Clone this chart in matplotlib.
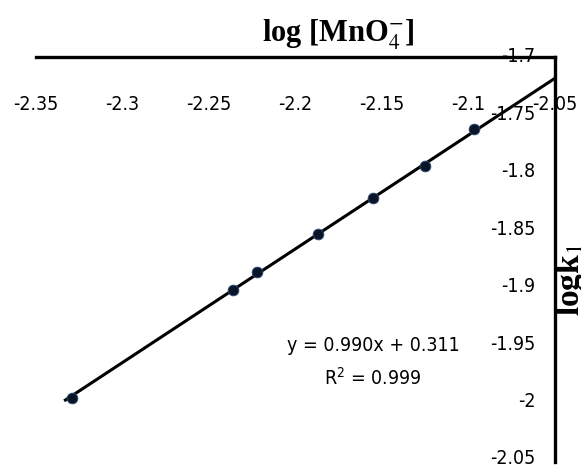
import numpy as np
import matplotlib
matplotlib.use("Agg")
import matplotlib.pyplot as plt

# data
log_mno4 = [-2.329, -2.236, -2.222, -2.187, -2.155, -2.125, -2.097]
log_k1 = [-1.997, -1.903, -1.887, -1.854, -1.823, -1.795, -1.763]
slope, intercept = 0.990, 0.311
fit_range = [-2.333, -2.05]
xticks = [-2.35, -2.3, -2.25, -2.2, -2.15, -2.1, -2.05]
yticks = [-1.7, -1.75, -1.8, -1.85, -1.9, -1.95, -2.0, -2.05]
xtick_labels = ['-2.35', '-2.3', '-2.25', '-2.2', '-2.15', '-2.1', '-2.05']
ytick_labels = ['-1.7', '-1.75', '-1.8', '-1.85', '-1.9', '-1.95', '-2', '-2.05']

plt.rcParams['font.family'] = ['DejaVu Sans']
plt.rcParams['font.stretch'] = 'condensed'

fig = plt.figure(figsize=(5.81, 4.70), dpi=100)
ax = fig.add_axes([36 / 581, 1 - 459 / 470, (555 - 36) / 581, (459 - 57) / 470])

# trendline
xt = np.array(fit_range)
ax.plot(xt, slope * xt + intercept, color='black', lw=2.2, zorder=2, clip_on=False)
ax.scatter(log_mno4, log_k1, s=60, color='#0b1526', edgecolors='#2a4d80',
           linewidths=0.6, zorder=3)

ax.set_xlim(-2.35, -2.05)
ax.set_ylim(-2.05, -1.7)

# only top and right spines
for side in ['left', 'bottom']:
    ax.spines[side].set_visible(False)
for side in ['top', 'right']:
    ax.spines[side].set_linewidth(2.4)
    ax.spines[side].set_capstyle('projecting')
ax.spines['right'].set_bounds(-2.053, -1.7)

ax.set_xticks(xticks)
ax.set_xticklabels(xtick_labels)
ax.set_yticks(yticks)
ax.set_yticklabels(ytick_labels)

ax.tick_params(axis='x', bottom=False, labelbottom=False, top=False, labeltop=True,
               length=0, pad=-41, labelsize=14)
ax.tick_params(axis='y', left=False, labelleft=False, right=False, labelright=True,
               length=0, pad=-14, labelsize=14)
for lab in ax.get_yticklabels():
    lab.set_ha('right')
    lab.set_va('center')

# equation
ax.text(-2.1552, -1.9509, 'y = 0.990x + 0.311', ha='center', va='center', fontsize=14)
ax.text(-2.1552, -1.9796, r'R$^2$ = 0.999', ha='center', va='center', fontsize=14)

# axis titles
fig.text(338 / 581, 1 - 35 / 470, r'log [MnO$_4^{-}$]', ha='center', va='center',
         fontsize=22, fontweight='bold', family='Liberation Serif', stretch='normal',
         math_fontfamily='stix')
fig.text(571 / 581, 1 - 280 / 470, r'logk$_1$', ha='center', va='center', rotation=90,
         fontsize=24, fontweight='bold', family='Liberation Serif', stretch='normal',
         math_fontfamily='stix')

fig.savefig('out.png', dpi=100)
